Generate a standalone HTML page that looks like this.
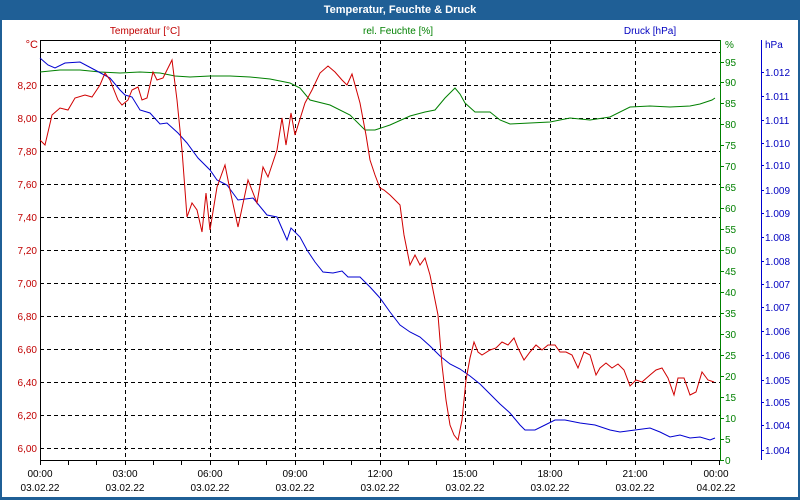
<!DOCTYPE html>
<html><head><meta charset="utf-8"><style>
html,body{margin:0;padding:0;background:#fff;}
svg{display:block;font-family:"Liberation Sans",sans-serif;font-size:10px;}
</style></head><body>
<svg width="800" height="500" xmlns="http://www.w3.org/2000/svg">
<rect x="0" y="0" width="800" height="500" fill="#1f5f96"/>
<rect x="2" y="20" width="796" height="477" fill="#fff"/>
<text x="400" y="13" fill="#fff" font-weight="bold" font-size="11" text-anchor="middle">Temperatur, Feuchte &amp; Druck</text>
<text x="145" y="34" fill="#c00000" text-anchor="middle">Temperatur [°C]</text>
<text x="398" y="34" fill="#008000" text-anchor="middle">rel. Feuchte [%]</text>
<text x="650" y="34" fill="#0000c0" text-anchor="middle">Druck [hPa]</text>
<text x="38" y="48" fill="#c00000" text-anchor="end" font-size="11">°C</text>
<g stroke="#000" stroke-width="1" stroke-dasharray="4,3" fill="none">
<path d="M40 52.5H720M40 85.5H720M40 118.5H720M40 151.5H720M40 184.5H720M40 217.5H720M40 250.5H720M40 283.5H720M40 316.5H720M40 349.5H720M40 382.5H720M40 415.5H720M40 448.5H720"/>
<path d="M125.5 40V460M210.5 40V460M295.5 40V460M380.5 40V460M465.5 40V460M550.5 40V460M635.5 40V460"/>
</g>
<path d="M40.5 40V460.5H720M40 40.5H720" stroke="#000" fill="none"/>
<path d="M68.5 460V465M96.5 460V465M125.5 460V465M153.5 460V465M181.5 460V465M210.5 460V465M238.5 460V465M266.5 460V465M295.5 460V465M323.5 460V465M351.5 460V465M380.5 460V465M408.5 460V465M436.5 460V465M465.5 460V465M493.5 460V465M521.5 460V465M550.5 460V465M578.5 460V465M606.5 460V465M635.5 460V465M663.5 460V465M691.5 460V465M40.5 460V465M719.5 460V465" stroke="#000"/>
<g fill="#c00000" text-anchor="end">
<text x="37" y="89">8,20</text><text x="37" y="122">8,00</text><text x="37" y="155">7,80</text><text x="37" y="188">7,60</text><text x="37" y="221">7,40</text><text x="37" y="254">7,20</text><text x="37" y="287">7,00</text><text x="37" y="320">6,80</text><text x="37" y="353">6,60</text><text x="37" y="386">6,40</text><text x="37" y="419">6,20</text><text x="37" y="452">6,00</text>
</g>
<g text-anchor="middle" fill="#000">
<text x="40" y="477">00:00</text><text x="40" y="491">03.02.22</text>
<text x="125" y="477">03:00</text><text x="125" y="491">03.02.22</text>
<text x="210" y="477">06:00</text><text x="210" y="491">03.02.22</text>
<text x="295" y="477">09:00</text><text x="295" y="491">03.02.22</text>
<text x="380" y="477">12:00</text><text x="380" y="491">03.02.22</text>
<text x="465" y="477">15:00</text><text x="465" y="491">03.02.22</text>
<text x="550" y="477">18:00</text><text x="550" y="491">03.02.22</text>
<text x="635" y="477">21:00</text><text x="635" y="491">03.02.22</text>
<text x="716" y="477">00:00</text><text x="716" y="491">04.02.22</text>
</g>
<path d="M720.5 40V460.5" stroke="#008000"/>
<g stroke="#008000"><path d="M720 460.5h4M720 439.5h4M720 418.5h4M720 397.5h4M720 376.5h4M720 355.5h4M720 334.5h4M720 313.5h4M720 292.5h4M720 271.5h4M720 250.5h4M720 229.5h4M720 208.5h4M720 187.5h4M720 166.5h4M720 145.5h4M720 124.5h4M720 103.5h4M720 82.5h4M720 62.5h4"/></g>
<g fill="#008000">
<text x="725" y="48">%</text><text x="725" y="66">95</text><text x="725" y="86">90</text><text x="725" y="107">85</text><text x="725" y="128">80</text><text x="725" y="149">75</text><text x="725" y="170">70</text><text x="725" y="191">65</text><text x="725" y="212">60</text><text x="725" y="233">55</text><text x="725" y="254">50</text><text x="725" y="275">45</text><text x="725" y="296">40</text><text x="725" y="317">35</text><text x="725" y="338">30</text><text x="725" y="359">25</text><text x="725" y="380">20</text><text x="725" y="401">15</text><text x="725" y="422">10</text><text x="725" y="443">5</text><text x="725" y="464">0</text>
</g>
<path d="M761.5 40V460" stroke="#0000d0"/>
<g fill="#0000c0">
<text x="765" y="48">hPa</text>
<text x="765" y="76">1.012</text><text x="765" y="100">1.011</text><text x="765" y="124">1.011</text><text x="765" y="147">1.010</text><text x="765" y="169">1.010</text><text x="765" y="194">1.009</text><text x="765" y="217">1.009</text><text x="765" y="241">1.008</text><text x="765" y="265">1.008</text><text x="765" y="288">1.007</text><text x="765" y="311">1.007</text><text x="765" y="335">1.006</text><text x="765" y="359">1.006</text><text x="765" y="384">1.005</text><text x="765" y="406">1.005</text><text x="765" y="429">1.004</text><text x="765" y="454">1.004</text>
</g>
<g stroke="#0000d0"><path d="M761 72.5h3M761 96.5h3M761 120.5h3M761 143.5h3M761 165.5h3M761 190.5h3M761 213.5h3M761 237.5h3M761 261.5h3M761 284.5h3M761 307.5h3M761 331.5h3M761 355.5h3M761 380.5h3M761 402.5h3M761 425.5h3M761 450.5h3"/></g>
<polyline fill="none" stroke="#008000" points="40,72 60,70 80,70 100,72 120,73 140,72 160,73 175,76 190,77 210,76 230,76 250,77 270,79 290,83 300,88 310,100 330,105 350,115 365,130 375,130 390,125 410,116 425,112 435,110 445,98 455,88 460,94 465,103 475,112 490,112 500,120 510,124 530,123 550,122 570,118 590,120 610,117 630,107 650,106 670,107 690,106 700,104 712,100 715,98"/>
<polyline fill="none" stroke="#0000d0" points="40,58 48,65 55,68 65,63 80,62 95,70 110,78 120,90 125,95 132,97 140,110 150,113 160,124 167,123 178,133 187,143 198,158 210,170 217,180 227,185 238,200 253,198 267,215 277,217 287,240 291,228 300,237 307,250 315,262 323,272 333,273 342,271 348,277 360,277 370,287 380,298 390,312 400,325 410,332 420,337 430,346 440,356 450,364 460,369 470,376 480,384 490,394 500,404 510,413 520,425 525,430 535,430 545,425 555,420 565,420 580,423 595,425 610,430 620,432 635,430 650,428 660,432 670,437 680,435 690,438 700,437 710,440 715,438"/>
<polyline fill="none" stroke="#d00000" points="40,140 45,145 52,115 60,108 68,110 75,98 85,95 92,97 100,85 105,73 110,80 118,100 122,105 128,100 132,90 138,87 142,100 147,98 153,72 157,80 163,78 167,70 172,60 177,100 182,150 187,217 192,203 197,210 202,232 206,193 210,230 217,187 225,165 230,190 238,227 248,180 257,203 263,167 268,177 277,150 282,118 286,145 291,113 295,135 305,103 312,90 320,73 328,66 335,72 342,80 347,85 352,74 360,103 366,135 370,160 375,175 380,188 384,190 390,195 395,200 400,205 404,235 410,265 415,255 420,265 425,258 430,275 434,295 438,315 442,365 446,400 450,425 454,435 458,440 462,420 466,380 470,358 474,342 478,352 482,355 490,350 496,348 502,342 508,345 514,338 518,348 524,360 530,352 536,345 542,350 548,345 555,345 560,352 566,352 572,355 578,368 584,352 590,355 596,375 600,368 606,363 612,368 618,364 624,370 630,386 636,380 642,382 650,375 656,370 662,368 668,378 674,395 678,378 684,378 690,395 696,392 702,372 708,380 714,382"/>
</svg>
</body></html>
